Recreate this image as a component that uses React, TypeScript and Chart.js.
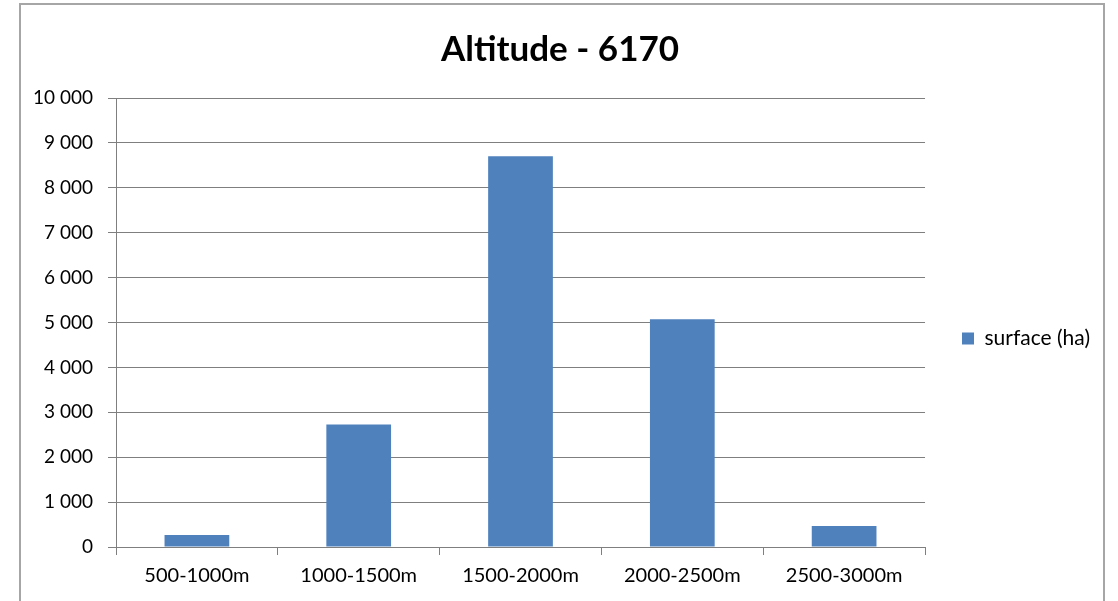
import React, { useEffect, useRef } from "react";
import { Chart, registerables } from "chart.js";

Chart.register(...registerables);

const categories = ["500-1000m", "1000-1500m", "1500-2000m", "2000-2500m", "2500-3000m"];
const surfaceValues = [270, 2730, 8700, 5070, 470];
const seriesLabel = "surface (ha)";
const chartTitle = "Altitude - 6170";
const yMin = 0;
const yMax = 10000;
const yStep = 1000;

const fmt = (v: number) => {
  const s = Math.round(v).toString();
  return s.replace(/\B(?=(\d{3})+(?!\d))/g, " ");
};

export default function App() {
  const ref = useRef<HTMLCanvasElement | null>(null);
  useEffect(() => {
    if (!ref.current) return;
    const font = "Lato, 'Open Sans', sans-serif";
    const chart = new Chart(ref.current, {
      type: "bar",
      data: {
        labels: categories,
        datasets: [
          {
            label: seriesLabel,
            data: surfaceValues,
            backgroundColor: "#4F81BD",
            borderWidth: 0,
            barPercentage: 0.4,
            categoryPercentage: 1,
          },
        ],
      },
      options: {
        responsive: false,
        animation: false,
        devicePixelRatio: 1,
        layout: { padding: { left: 20, right: 18, top: 6, bottom: 0 } },
        plugins: {
          title: {
            display: true,
            text: chartTitle,
            color: "#000",
            font: { family: font, size: 35, weight: "bold" },
            padding: { top: 23, bottom: 27 },
          },
          legend: {
            position: "right",
            title: {
              display: true,
              text: " ",
              font: { family: font, size: 10 },
              padding: { top: 0, bottom: 58 },
            },
            labels: {
              boxWidth: 12,
              boxHeight: 12,
              padding: 37,
              color: "#000",
              font: { family: font, size: 21 },
            },
          },
          tooltip: { enabled: false },
        },
        scales: {
          x: {
            grid: {
              display: true,
              drawOnChartArea: false,
              drawTicks: true,
              tickLength: 8,
              color: "#7f7f7f",
              lineWidth: 1,
            },
            border: { display: true, color: "#7f7f7f", width: 1 },
            ticks: {
              color: "#000",
              padding: 9,
              font: { family: font, size: 20 },
              maxRotation: 0,
            },
            afterFit: (scale: any) => {
              scale.height = 54;
            },
          },
          y: {
            min: yMin,
            max: yMax,
            grid: {
              color: "#7f7f7f",
              lineWidth: 1,
              drawTicks: true,
              tickLength: 8,
            },
            border: { display: true, color: "#7f7f7f", width: 1 },
            ticks: {
              stepSize: yStep,
              color: "#000",
              padding: 15,
              font: { family: font, size: 19 },
              callback: (v: any) => fmt(Number(v)),
            },
            afterFit: (scale: any) => {
              scale.width = 96;
            },
          },
        },
      },
    });
    return () => chart.destroy();
  }, []);

  return (
    <div
      style={{
        position: "fixed",
        left: 0,
        top: 0,
        width: 1118,
        height: 601,
        overflow: "hidden",
        background: "#fff",
      }}
    >
      <div
        style={{
          position: "absolute",
          left: 19,
          top: 3,
          width: 1086,
          height: 700,
          border: "2px solid #a6a6a6",
          boxSizing: "border-box",
        }}
      />
      <canvas
        ref={ref}
        width={1118}
        height={601}
        style={{ position: "absolute", left: 0, top: 0, width: 1118, height: 601 }}
      />
    </div>
  );
}
